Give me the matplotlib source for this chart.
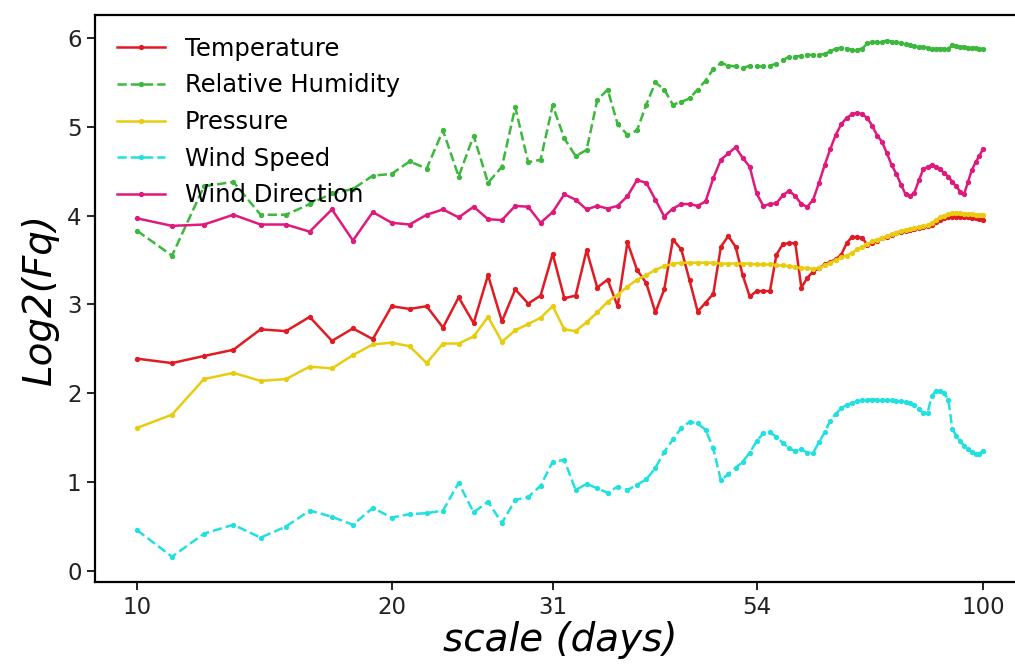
import numpy as np
import matplotlib
matplotlib.use("Agg")
import matplotlib.pyplot as plt

# scale in days, one value per integer scale 10..100
scales = np.arange(10, 101)

temperature = [2.39, 2.34, 2.42, 2.49, 2.72, 2.70, 2.86, 2.59, 2.73, 2.61,
               2.98, 2.95, 2.98, 2.74, 3.08, 2.79, 3.33, 2.81, 3.17, 3.01,
               3.10, 3.57, 3.07, 3.10, 3.61, 3.19, 3.28, 2.98, 3.70, 3.39,
               3.24, 2.91, 3.17, 3.73, 3.62, 3.27, 2.92, 3.02, 3.12, 3.65,
               3.77, 3.65, 3.33, 3.09, 3.15, 3.15, 3.15, 3.56, 3.68, 3.69,
               3.69, 3.19, 3.30, 3.37, 3.41, 3.45, 3.48, 3.51, 3.56, 3.69,
               3.76, 3.76, 3.75, 3.67, 3.69, 3.72, 3.75, 3.76, 3.78, 3.80,
               3.82, 3.83, 3.84, 3.85, 3.86, 3.87, 3.88, 3.90, 3.93, 3.95,
               3.97, 3.98, 3.99, 3.99, 3.99, 3.98, 3.98, 3.97, 3.97, 3.96,
               3.95]

humidity = [3.83, 3.55, 4.33, 4.38, 4.01, 4.01, 4.13, 4.25, 4.30, 4.45,
            4.47, 4.61, 4.53, 4.96, 4.44, 4.90, 4.37, 4.55, 5.22, 4.60,
            4.63, 5.24, 4.87, 4.67, 4.74, 5.30, 5.42, 5.03, 4.91, 4.96,
            5.25, 5.50, 5.42, 5.25, 5.28, 5.32, 5.42, 5.52, 5.65, 5.72,
            5.69, 5.68, 5.66, 5.69, 5.68, 5.68, 5.69, 5.71, 5.75, 5.79,
            5.79, 5.80, 5.81, 5.81, 5.81, 5.82, 5.85, 5.88, 5.89, 5.88,
            5.87, 5.87, 5.88, 5.94, 5.95, 5.96, 5.96, 5.97, 5.96, 5.95,
            5.94, 5.93, 5.92, 5.91, 5.90, 5.90, 5.89, 5.88, 5.88, 5.88,
            5.88, 5.88, 5.92, 5.91, 5.90, 5.90, 5.89, 5.89, 5.89, 5.88,
            5.88]

pressure = [1.61, 1.76, 2.16, 2.23, 2.14, 2.16, 2.30, 2.28, 2.43, 2.55,
            2.57, 2.53, 2.34, 2.56, 2.56, 2.64, 2.86, 2.58, 2.71, 2.78,
            2.85, 2.98, 2.72, 2.70, 2.80, 2.91, 3.03, 3.11, 3.20, 3.28,
            3.33, 3.39, 3.43, 3.46, 3.47, 3.47, 3.47, 3.47, 3.47, 3.46,
            3.46, 3.46, 3.46, 3.46, 3.45, 3.45, 3.45, 3.44, 3.44, 3.43,
            3.42, 3.41, 3.41, 3.40, 3.41, 3.44, 3.47, 3.50, 3.53, 3.55,
            3.58, 3.62, 3.65, 3.68, 3.71, 3.73, 3.75, 3.77, 3.79, 3.81,
            3.83, 3.84, 3.85, 3.86, 3.87, 3.88, 3.89, 3.92, 3.95, 3.98,
            4.00, 4.02, 4.03, 4.03, 4.03, 4.02, 4.02, 4.02, 4.01, 4.01,
            4.01]

wind_speed = [0.46, 0.16, 0.42, 0.52, 0.375, 0.50, 0.68, 0.61, 0.52, 0.71,
              0.60, 0.64, 0.65, 0.68, 0.99, 0.66, 0.78, 0.54, 0.80, 0.83,
              0.96, 1.23, 1.25, 0.91, 0.98, 0.93, 0.88, 0.95, 0.91, 0.97,
              1.03, 1.16, 1.34, 1.48, 1.61, 1.68, 1.66, 1.59, 1.38, 1.02,
              1.09, 1.16, 1.23, 1.33, 1.46, 1.55, 1.56, 1.51, 1.44, 1.38,
              1.35, 1.37, 1.33, 1.33, 1.45, 1.56, 1.69, 1.77, 1.83, 1.87,
              1.89, 1.91, 1.92, 1.93, 1.93, 1.93, 1.93, 1.92, 1.92, 1.91,
              1.91, 1.90, 1.89, 1.87, 1.82, 1.78, 1.78, 1.97, 2.03, 2.03,
              2.00, 1.93, 1.60, 1.52, 1.46, 1.41, 1.37, 1.34, 1.32, 1.32,
              1.35]

wind_direction = [3.97, 3.885, 3.90, 4.01, 3.90, 3.90, 3.82, 4.07, 3.72, 4.04,
                  3.92, 3.90, 4.01, 4.07, 3.98, 4.10, 3.96, 3.95, 4.11, 4.10,
                  3.92, 4.04, 4.24, 4.18, 4.07, 4.11, 4.08, 4.11, 4.22, 4.40,
                  4.37, 4.18, 3.99, 4.08, 4.13, 4.13, 4.11, 4.16, 4.42, 4.63,
                  4.70, 4.77, 4.65, 4.55, 4.25, 4.11, 4.13, 4.14, 4.23, 4.28,
                  4.22, 4.13, 4.10, 4.18, 4.37, 4.57, 4.75, 4.91, 5.03, 5.10,
                  5.14, 5.16, 5.14, 5.10, 5.01, 4.90, 4.83, 4.70, 4.57, 4.47,
                  4.35, 4.24, 4.22, 4.26, 4.40, 4.52, 4.55, 4.57, 4.55, 4.52,
                  4.48, 4.44, 4.38, 4.33, 4.27, 4.24, 4.38, 4.51, 4.60, 4.67,
                  4.75]

xticks = [10, 20, 31, 54, 100]

fig = plt.figure(figsize=(10.15, 6.68), dpi=100)
# the right edge of the axes runs past the canvas, so no right spine shows
ax = fig.add_axes([0.0933, 0.128, 0.9168, 0.8497])

style = dict(lw=1.8, marker='o', ms=2.8)
ax.plot(scales, temperature, '-', color='#e01b24', label='Temperature', **style)
ax.plot(scales, humidity, '--', color='#3cb83c', label='Relative Humidity', **style)
ax.plot(scales, pressure, '-', color='#e8cc10', label='Pressure', **style)
ax.plot(scales, wind_speed, '--', color='#22e0e0', label='Wind Speed', **style)
ax.plot(scales, wind_direction, '-', color='#e0197d', label='Wind Direction', **style)

ax.set_xscale('log')
ax.set_xlim(10 ** 0.95, 10 ** 2.05)
ax.set_ylim(-0.13, 6.26)
ax.set_xticks(xticks)
ax.set_xticklabels([str(t) for t in xticks])
ax.xaxis.set_minor_locator(matplotlib.ticker.NullLocator())
ax.set_yticks(range(0, 7))
ax.tick_params(labelsize=16.5, length=6, width=1.4, colors='#222222')
for sp in ax.spines.values():
    sp.set_linewidth(1.6)
ax.spines['right'].set_visible(False)

ax.set_xlabel('scale (days)', fontsize=28, style='italic', labelpad=2)
ax.set_ylabel('Log2(Fq)', fontsize=28, style='italic', labelpad=6)

ax.legend(loc='upper left', frameon=False, fontsize=17.5, handlelength=2.0,
          labelspacing=0.52, borderaxespad=0.5)

fig.savefig('out.png', dpi=100)
